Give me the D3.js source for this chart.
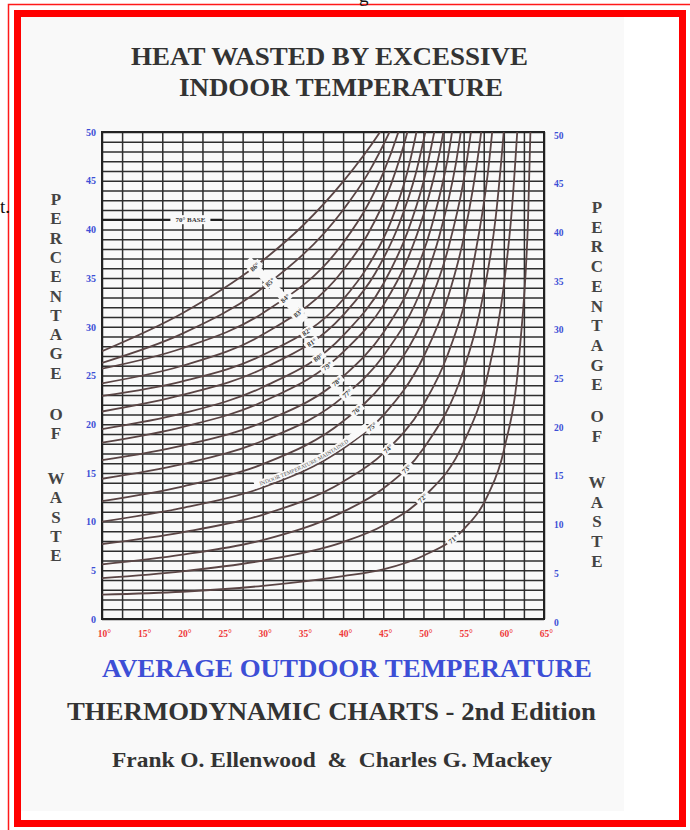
<!DOCTYPE html>
<html>
<head>
<meta charset="utf-8">
<script src="https://cdn.jsdelivr.net/npm/d3@7"></script>
<style>
  body { margin: 0; background: #fff; }
  svg { display: block; }
</style>
</head>
<body>
<script>
const WIDTH = 690
const HEIGHT = 830

// axis ticks
const outdoorTicks = [10, 15, 20, 25, 30, 35, 40, 45, 50, 55, 60, 65]
const wasteTicks = [0, 5, 10, 15, 20, 25, 30, 35, 40, 45, 50]

// indoor temperature of each curve, bottom curve first
const indoorTemps = [71, 72, 73, 74, 75, 76, 77, 78, 79, 80, 81, 82, 83, 84, 85, 86]

// [outdoor temp, % waste]
const waste71 = [[10, 2.5], [20, 2.8], [30, 3.4], [40, 4.4], [45, 5.1], [50, 6.5], [55, 9.2], [58, 12.7], [60, 17.3], [62, 27.8], [63, 40.6], [63.8, 65]]
const waste72 = [[10, 4.2], [20, 4.9], [30, 6.0], [40, 7.9], [45, 9.6], [50, 12.5], [55, 18.1], [58, 25.1], [60, 34.2], [61, 42], [62, 54.4]]
const waste73 = [[10, 5.6], [20, 6.6], [30, 8.1], [40, 11.0], [45, 13.4], [50, 17.5], [55, 25.6], [57, 31.5], [59, 41.3], [61, 60.4]]
const waste74 = [[10, 7.7], [20, 8.9], [30, 10.7], [40, 14.1], [45, 17.0], [50, 22.0], [53, 27.1], [56, 35.6], [58, 45.7], [59.5, 58.4]]
const waste75 = [[10, 10.0], [20, 11.4], [30, 13.5], [40, 17.5], [45, 20.9], [50, 26.9], [53, 32.9], [55, 39.1], [57, 48.8], [58.5, 60.3]]
const waste76 = [[10, 12.1], [20, 13.6], [30, 15.9], [40, 20.3], [45, 24.2], [50, 30.9], [53, 37.8], [55, 45.0], [57.5, 60.4]]
const waste77 = [[10, 14.4], [20, 15.9], [30, 18.3], [40, 22.8], [45, 27.0], [50, 34.4], [52, 39.4], [54, 46.6], [56, 58.2]]
const waste78 = [[10, 16.3], [20, 17.8], [30, 20.2], [40, 24.9], [45, 29.4], [48, 33.6], [51, 40.3], [53, 47.2], [55, 58.4]]
const waste79 = [[10, 18.1], [20, 19.7], [30, 22.3], [40, 27.4], [45, 32.2], [48, 36.9], [50, 41.5], [52, 47.9], [54, 58.0]]
const waste80 = [[10, 19.5], [20, 21.1], [30, 23.8], [40, 29.1], [45, 34.4], [48, 39.7], [50, 44.9], [52, 52.7]]
const waste81 = [[10, 21.3], [20, 23.0], [30, 25.7], [40, 31.2], [44, 35.5], [47, 40.6], [49, 45.6], [51, 53.0]]
const waste82 = [[10, 22.9], [20, 24.4], [30, 27.1], [40, 32.8], [43, 36.1], [46, 40.9], [48, 45.9], [50, 53.5]]
const waste83 = [[10, 24.2], [20, 26.0], [30, 29.2], [40, 35.8], [43, 39.4], [46, 44.7], [48, 50.0], [50, 57.7]]
const waste84 = [[10, 25.7], [20, 27.8], [30, 31.4], [40, 38.6], [43, 42.4], [45, 45.8], [47, 50.3], [49, 56.3]]
const waste85 = [[10, 26.3], [20, 29.3], [30, 34.0], [40, 42.0], [43, 45.6], [46, 50.4], [48, 54.3]]
const waste86 = [[10, 27.5], [20, 31.4], [30, 36.8], [35, 40.4], [40, 44.9], [44.6, 50], [47, 53.2]]

const wasteCurves = [waste71, waste72, waste73, waste74, waste75, waste76, waste77, waste78,
  waste79, waste80, waste81, waste82, waste83, waste84, waste85, waste86]

// outdoor temp where each curve carries its label
const labelTemps = [53.7, 49.9, 47.9, 45.6, 43.6, 41.7, 40.5, 39.2, 38.0, 36.9, 36.1, 35.5, 34.4, 32.8, 30.9, 29.0]

const SERIF = '"Liberation Serif", "Times New Roman", serif'
const BLUE = '#3d4fd6'
const RED = '#ee3b3b'
const INK = '#333'
const PAPER = '#f9f9f9'

const svg = d3.select('body')
  .append('svg')
  .attr('width', WIDTH)
  .attr('height', HEIGHT)

// scanned page
svg.append('rect')
  .attr('x', 21).attr('y', 17)
  .attr('width', 603).attr('height', 794)
  .attr('fill', PAPER)

// red frames
svg.append('path')
  .attr('d', 'M8.5,830 V4.5 H690')
  .attr('fill', 'none')
  .attr('stroke', '#ff1a1a')
  .attr('stroke-width', 1.5)

svg.append('rect')
  .attr('x', 17.5).attr('y', 13.5)
  .attr('width', 665).attr('height', 810)
  .attr('fill', 'none')
  .attr('stroke', '#ff0000')
  .attr('stroke-width', 7)

// bits of the surrounding page text
svg.append('text').attr('x', 0).attr('y', 213)
  .attr('font-family', SERIF).attr('font-size', 19).attr('fill', '#111').text('t.')
svg.append('text').attr('x', 359).attr('y', 2)
  .attr('font-family', SERIF).attr('font-size', 19).attr('fill', '#111').text('g')

// titles
const addText = (txt, x0, y0, size, width, fill) =>
  svg.append('text')
    .attr('x', x0).attr('y', y0)
    .attr('font-family', SERIF)
    .attr('font-weight', 'bold')
    .attr('font-size', size)
    .attr('fill', fill)
    .attr('textLength', width)
    .attr('lengthAdjust', 'spacingAndGlyphs')
    .style('white-space', 'pre')
    .text(txt)

addText('HEAT WASTED BY EXCESSIVE', 131, 65, 25, 397, INK)
addText('INDOOR TEMPERATURE', 179, 96, 25, 324, INK)
addText('AVERAGE OUTDOOR TEMPERATURE', 102, 677, 26, 490, BLUE)
addText('THERMODYNAMIC CHARTS - 2nd Edition', 67, 720, 25, 529, INK)
addText('Frank O. Ellenwood  &  Charles G. Mackey', 112, 767, 21, 440, INK)

// scales
const x = d3.scaleLinear().domain([10, 65]).range([102, 544])
const y = d3.scaleLinear().domain([0, 50]).range([619, 132])

const plot = svg.append('g')

// grid: every 1 % and every 2.5 degrees
const hGrid = plot.append('g')
  .attr('transform', `translate(${x(10)},0)`)
  .call(d3.axisLeft(y).tickValues(d3.range(0, 51)).tickSize(-(x(65) - x(10))).tickFormat(''))
const vGrid = plot.append('g')
  .attr('transform', `translate(0,${y(0)})`)
  .call(d3.axisBottom(x).tickValues(d3.range(10, 65.1, 2.5)).tickSize(-(y(0) - y(50))).tickFormat(''))
;[hGrid, vGrid].forEach(g => {
  g.select('.domain').remove()
  g.selectAll('line').attr('stroke', '#2e2e2e').attr('stroke-width', 1.5)
})

plot.append('rect')
  .attr('x', x(10)).attr('y', y(50))
  .attr('width', x(65) - x(10)).attr('height', y(0) - y(50))
  .attr('fill', 'none').attr('stroke', '#222').attr('stroke-width', 2)

// tick labels
const leftAxis = plot.append('g')
  .attr('transform', `translate(${x(10) - 3},0)`)
  .call(d3.axisLeft(y).tickValues(wasteTicks).tickSize(0))
const rightAxis = plot.append('g')
  .attr('transform', `translate(${x(65) + 7},3)`)
  .call(d3.axisRight(y).tickValues(wasteTicks).tickSize(0))
const bottomAxis = plot.append('g')
  .attr('transform', `translate(2,${y(0) + 8})`)
  .call(d3.axisBottom(x).tickValues(outdoorTicks).tickSize(0).tickFormat(d => d + '°'))
;[leftAxis, rightAxis, bottomAxis].forEach(g => {
  g.select('.domain').remove()
  g.selectAll('text')
    .attr('font-family', SERIF)
    .attr('font-weight', 'bold')
    .attr('font-size', 10)
})
leftAxis.selectAll('text').attr('fill', BLUE)
rightAxis.selectAll('text').attr('fill', BLUE).attr('font-size', 9.5)
bottomAxis.selectAll('text').attr('fill', RED).attr('font-size', 9.5)

// vertical axis titles, one letter under the other
const stackLetters = (cx, words, starts, step) => {
  words.forEach((w, wi) => {
    w.split('').forEach((ch, k) => {
      svg.append('text')
        .attr('x', cx).attr('y', starts[wi] + k * step)
        .attr('text-anchor', 'middle')
        .attr('font-family', SERIF)
        .attr('font-weight', 'bold')
        .attr('font-size', 17)
        .attr('fill', '#444')
        .text(ch)
    })
  })
}
stackLetters(56, ['PERCENTAGE', 'OF', 'WASTE'], [205, 420, 484], 19.3)
stackLetters(597, ['PERCENTAGE', 'OF', 'WASTE'], [213, 422, 488], 19.7)

// curves
svg.append('clipPath').attr('id', 'plotClip')
  .append('rect')
  .attr('x', x(10)).attr('y', y(50))
  .attr('width', x(65) - x(10)).attr('height', y(0) - y(50))

const line = d3.line()
  .x(d => x(d[0]))
  .y(d => y(d[1]))
  .curve(d3.curveMonotoneX)

const curves = plot.append('g').attr('clip-path', 'url(#plotClip)')
const paths = curves.selectAll('path')
  .data(wasteCurves)
  .join('path')
  .attr('d', line)
  .attr('fill', 'none')
  .attr('stroke', '#5a4545')
  .attr('stroke-width', 1.8)

// find where a curve passes a given screen x
const pointAtX = (node, px) => {
  const len = node.getTotalLength()
  let lo = 0, hi = len
  for (let k = 0; k < 32; k++) {
    const mid = (lo + hi) / 2
    if (node.getPointAtLength(mid).x < px) lo = mid
    else hi = mid
  }
  const p = node.getPointAtLength(lo)
  const a = node.getPointAtLength(Math.max(0, lo - 5))
  const b = node.getPointAtLength(Math.min(len, lo + 5))
  return { x: p.x, y: p.y, angle: Math.atan2(b.y - a.y, b.x - a.x) * 180 / Math.PI }
}

// white strip running along the 75 degree curve
const stripNode = paths.nodes()[4]
const s0 = pointAtX(stripNode, x(29)), s1 = pointAtX(stripNode, x(43))
const stripPts = d3.range(0, 1.001, 0.1).map(t => pointAtX(stripNode, s0.x + t * (s1.x - s0.x)))
svg.append('path')
  .attr('id', 'stripPath')
  .attr('d', d3.line().x(d => d.x).y(d => d.y - 5).curve(d3.curveBasis)(stripPts))
  .attr('fill', 'none')
  .attr('stroke', PAPER)
  .attr('stroke-width', 7)
svg.append('text')
  .attr('font-family', SERIF).attr('font-size', 5.5).attr('fill', '#555')
  .attr('dy', 2)
  .append('textPath')
  .attr('href', '#stripPath')
  .attr('startOffset', '4%')
  .text('INDOOR TEMPERATURE MAINTAINED')

// white band across the four top curves
const bandA = pointAtX(paths.nodes()[15], x(labelTemps[15]))
const bandB = pointAtX(paths.nodes()[12], x(labelTemps[12]))
const bandAng = Math.atan2(bandB.y - bandA.y, bandB.x - bandA.x) * 180 / Math.PI
const bandLen = Math.hypot(bandB.x - bandA.x, bandB.y - bandA.y)
svg.append('rect')
  .attr('transform', `translate(${bandA.x},${bandA.y}) rotate(${bandAng})`)
  .attr('x', -10).attr('y', -4)
  .attr('width', bandLen + 20).attr('height', 8)
  .attr('fill', PAPER)

// curve labels
paths.each(function (d, i) {
  const p = pointAtX(this, x(labelTemps[i]))
  const g = svg.append('g')
    .attr('transform', `translate(${p.x},${p.y}) rotate(${i >= 12 ? bandAng - 90 : p.angle})`)
  g.append('rect')
    .attr('x', -7.5).attr('y', -4)
    .attr('width', 15).attr('height', 8)
    .attr('fill', PAPER)
  g.append('text')
    .attr('text-anchor', 'middle')
    .attr('dy', 2.4)
    .attr('font-family', SERIF)
    .attr('font-weight', 'bold')
    .attr('font-size', 7)
    .attr('fill', '#3a3a3a')
    .text(indoorTemps[i] + '°')
})

// base temperature note near the top left, on a heavier rule
plot.append('line')
  .attr('x1', x(10)).attr('x2', x(25))
  .attr('y1', y(41)).attr('y2', y(41))
  .attr('stroke', '#1e1e1e').attr('stroke-width', 2)
const base = svg.append('g').attr('transform', `translate(${x(21)},${y(41)})`)
base.append('rect').attr('x', -20).attr('y', -4.5).attr('width', 40).attr('height', 9).attr('fill', PAPER)
base.append('text')
  .attr('text-anchor', 'middle').attr('dy', 2.5)
  .attr('font-family', SERIF).attr('font-weight', 'bold').attr('font-size', 7)
  .attr('fill', '#3a3a3a')
  .text('70° BASE')
</script>
</body>
</html>
